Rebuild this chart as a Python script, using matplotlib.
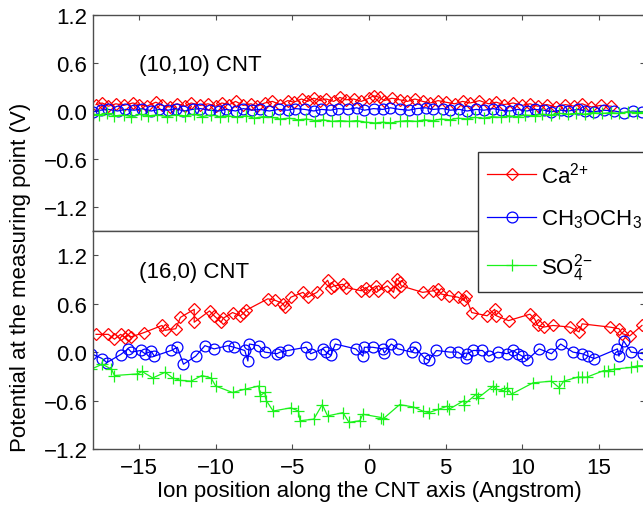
import matplotlib
matplotlib.use("Agg")
import matplotlib.pyplot as plt
from matplotlib.ticker import FuncFormatter

plt.rcParams['font.family'] = ['Liberation Sans', 'DejaVu Sans']
plt.rcParams['mathtext.fontset'] = 'custom'
plt.rcParams['mathtext.rm'] = 'Liberation Sans'
plt.rcParams['mathtext.it'] = 'Liberation Sans:italic'

# (10,10) CNT
ca_top_x = [-17.8, -17.4, -17.0, -16.5, -16.0, -15.4, -15.0, -14.5, -13.9, -13.5, -13.0, -12.5,
            -12.0, -11.6, -11.0, -10.5, -10.0, -9.6, -9.1, -8.7, -8.2, -7.7, -7.3, -6.8, -6.3,
            -5.8, -5.3, -4.9, -4.4, -4.0, -3.6, -3.2, -2.8, -2.3, -1.9, -1.5, -1.0, -0.5, 0.0,
            0.3, 0.7, 1.0, 1.5, 2.0, 2.5, 3.0, 3.5, 4.0, 4.5, 5.0, 5.6, 6.1, 6.6, 7.2, 7.8, 8.3,
            8.8, 9.4, 10.0, 10.5, 11.0, 11.6, 12.2, 12.8, 13.4, 13.9, 14.5, 15.1, 15.8]
ca_top_y = [0.08, 0.10, 0.06, 0.09, 0.07, 0.10, 0.08, 0.06, 0.11, 0.07, 0.05, 0.09,
            0.06, 0.10, 0.07, 0.09, 0.06, 0.10, 0.08, 0.12, 0.07, 0.09, 0.06, 0.10, 0.12,
            0.08, 0.13, 0.11, 0.15, 0.12, 0.16, 0.13, 0.15, 0.12, 0.17, 0.14, 0.15, 0.12, 0.16,
            0.19, 0.17, 0.13, 0.16, 0.14, 0.12, 0.15, 0.12, 0.10, 0.13, 0.11, 0.09, 0.12, 0.10,
            0.13, 0.09, 0.11, 0.08, 0.10, 0.07, 0.09, 0.06, 0.08, 0.05, 0.08, 0.06, 0.09, 0.05,
            0.07, 0.06]

me_top_x = [-18.0, -17.5, -17.0, -16.4, -15.9, -15.3, -14.8, -14.2, -13.7, -13.1, -12.6, -12.1,
            -11.5, -11.0, -10.4, -9.8, -9.3, -8.7, -8.2, -7.6, -7.1, -6.5, -5.9, -5.3, -4.8,
            -4.2, -3.6, -3.1, -2.5, -2.0, -1.4, -0.8, -0.3, 0.3, 0.9, 1.4, 2.0, 2.6, 3.1, 3.7,
            4.2, 4.8, 5.3, 5.9, 6.4, 7.0, 7.5, 8.1, 8.6, 9.2, 9.7, 10.3, 10.8, 11.4, 11.9, 12.5,
            13.0, 13.6, 14.1, 14.7, 15.3, 16.0, 16.6, 17.2, 17.8]
me_top_y = [-0.01, 0.01, 0.02, 0.00, 0.02, 0.01, 0.03, 0.00, 0.02, 0.01, 0.03, 0.00,
            0.02, 0.03, 0.01, 0.00, 0.02, 0.00, 0.03, 0.01, 0.02, 0.00, 0.02, 0.01, 0.03,
            0.02, 0.00, 0.02, 0.01, 0.03, 0.02, 0.04, 0.01, 0.03, 0.02, 0.04, 0.02, 0.01, 0.03,
            0.04, 0.02, 0.03, 0.01, 0.02, 0.00, 0.02, 0.01, 0.03, 0.01, 0.00, 0.02, 0.00, 0.02,
            0.01, -0.01, 0.01, 0.00, 0.02, 0.00, -0.01, 0.01, 0.00, -0.02, 0.00, -0.01]

so_top_x = [-18.0, -17.6, -17.1, -16.6, -16.0, -15.5, -14.9, -14.4, -13.8, -13.2, -12.6, -12.0,
            -11.4, -10.9, -10.3, -9.7, -9.2, -8.6, -8.0, -7.5, -6.9, -6.3, -5.8, -5.2, -4.6,
            -4.1, -3.5, -3.0, -2.4, -1.9, -1.3, -0.8, -0.2, 0.4, 0.9, 1.4, 2.0, 2.5, 3.1, 3.6,
            4.2, 4.7, 5.3, 5.8, 6.4, 6.9, 7.5, 8.0, 8.6, 9.1, 9.7, 10.2, 10.8, 11.3, 11.9, 12.4,
            13.0, 13.5, 14.1, 14.6, 15.2, 15.8, 16.3, 16.9, 17.5, 18.0]
so_top_y = [-0.04, -0.05, -0.03, -0.06, -0.05, -0.07, -0.04, -0.06, -0.05, -0.07, -0.05, -0.06,
            -0.04, -0.07, -0.05, -0.07, -0.06, -0.08, -0.06, -0.09, -0.07, -0.08, -0.10, -0.09,
            -0.11, -0.10, -0.12, -0.11, -0.13, -0.12, -0.13, -0.12, -0.14, -0.15, -0.14, -0.15,
            -0.13, -0.12, -0.13, -0.11, -0.12, -0.10, -0.11, -0.09, -0.10, -0.08, -0.09, -0.07,
            -0.08, -0.06, -0.07, -0.05, -0.06, -0.04, -0.05, -0.03, -0.04, -0.03, -0.04, -0.02,
            -0.03, -0.02, -0.03, -0.01, -0.02, -0.01]

# (16,0) CNT
ca_bot_x = [-17.8, -17.0, -16.6, -16.2, -15.9, -15.7, -15.5, -14.7, -13.5, -13.3, -12.6, -12.3,
            -11.4, -11.4, -10.4, -10.1, -9.65, -9.5, -8.9, -8.4, -8.2, -8.0, -6.6, -6.1, -5.6,
            -5.5, -5.1, -4.3, -4.0, -3.4, -2.7, -2.5, -2.3, -1.7, -1.5, -0.5, -0.2, 0.0, 0.46,
            0.6, 1.2, 1.6, 1.8, 2.0, 2.1, 3.5, 4.2, 4.5, 4.7, 5.2, 5.8, 6.2, 6.3, 6.7, 7.7, 8.2,
            8.3, 9.1, 10.5, 10.8, 11.0, 11.4, 12.0, 13.1, 13.7, 13.9, 15.7, 16.3, 16.5, 17.0, 17.8]
ca_bot_y = [0.22, 0.22, 0.16, 0.22, 0.18, 0.21, 0.19, 0.24, 0.33, 0.27, 0.29, 0.43,
            0.53, 0.37, 0.51, 0.45, 0.37, 0.42, 0.49, 0.45, 0.48, 0.52, 0.66, 0.64, 0.60,
            0.56, 0.68, 0.74, 0.68, 0.74, 0.89, 0.80, 0.82, 0.84, 0.80, 0.76, 0.80, 0.76, 0.82,
            0.76, 0.82, 0.74, 0.91, 0.87, 0.82, 0.74, 0.76, 0.78, 0.72, 0.70, 0.68, 0.64, 0.69,
            0.49, 0.45, 0.53, 0.45, 0.39, 0.47, 0.41, 0.33, 0.31, 0.33, 0.31, 0.25, 0.35, 0.31,
            0.29, 0.23, 0.20, 0.33]

me_bot_x = [-18.1, -17.4, -17.1, -16.2, -15.7, -15.5, -14.9, -14.6, -14.2, -14.0, -12.9, -12.5,
            -12.1, -11.3, -10.7, -10.1, -9.2, -8.8, -8.1, -7.9, -7.8, -7.2, -6.8, -6.0, -5.8,
            -5.3, -4.1, -3.8, -3.0, -2.8, -2.5, -2.2, -0.86, -0.4, -0.3, 0.24, 0.9, 1.0, 1.45,
            1.9, 2.8, 3.0, 3.6, 3.9, 4.4, 5.3, 5.8, 6.3, 6.4, 6.8, 7.4, 7.8, 8.4, 9.0, 9.4, 9.7,
            10.0, 10.3, 11.1, 11.9, 12.5, 13.3, 13.9, 14.3, 14.7, 16.2, 16.3, 16.6, 17.1, 17.9]
me_bot_y = [-0.02, -0.08, -0.13, -0.03, 0.04, 0.00, 0.02, -0.02, 0.01, -0.05, 0.02, 0.06,
            -0.15, -0.05, 0.08, 0.04, 0.08, 0.06, 0.02, -0.11, 0.10, 0.08, 0.00, -0.02, 0.00,
            0.02, 0.06, -0.02, 0.04, 0.00, -0.04, 0.10, 0.04, -0.05, 0.06, 0.06, 0.04, -0.01,
            0.10, 0.04, 0.00, 0.06, -0.07, -0.10, 0.02, 0.00, 0.00, -0.07, -0.02, 0.02, 0.02,
            -0.05, 0.00, -0.02, 0.02, -0.02, -0.05, -0.10, 0.04, -0.02, 0.10, 0.00, -0.02,
            -0.05, -0.08, 0.04, -0.05, 0.14, 0.00, -0.02]

so_bot_x = [-18.1, -17.4, -16.8, -16.6, -15.1, -14.8, -14.1, -13.3, -12.8, -12.3, -11.6, -10.9,
            -10.3, -10.0, -8.9, -8.1, -7.2, -7.1, -6.8, -6.7, -6.25, -5.1, -4.6, -4.5, -3.6,
            -3.05, -2.7, -1.7, -1.3, -0.6, -0.4, 0.8, 0.9, 2.0, 2.9, 3.5, 3.9, 4.5, 5.1, 5.2,
            6.2, 6.2, 7.0, 7.1, 8.1, 8.3, 8.8, 9.0, 9.3, 10.7, 11.9, 12.4, 12.7, 13.6, 13.9,
            14.2, 15.3, 15.6, 16.0, 17.1, 17.5, 18.0]
so_bot_y = [-0.21, -0.15, -0.21, -0.29, -0.27, -0.24, -0.32, -0.25, -0.32, -0.35, -0.36, -0.29,
            -0.32, -0.42, -0.50, -0.46, -0.42, -0.54, -0.50, -0.60, -0.73, -0.69, -0.73, -0.85,
            -0.83, -0.65, -0.79, -0.75, -0.87, -0.85, -0.77, -0.81, -0.83, -0.65, -0.68, -0.73,
            -0.75, -0.71, -0.67, -0.71, -0.60, -0.65, -0.52, -0.57, -0.42, -0.46, -0.48, -0.44,
            -0.52, -0.38, -0.36, -0.44, -0.36, -0.31, -0.31, -0.31, -0.23, -0.23, -0.21, -0.19,
            -0.17, -0.17]

labels = ['Ca$^{2{+}}$', 'CH$_3$OCH$_3$', 'SO$_4^{2{-}}$']
x_ticks = [-15, -10, -5, 0, 5, 10, 15]
y_ticks = [-1.2, -0.6, 0.0, 0.6, 1.2]

W, H = 643, 506
FS = 16
fig = plt.figure(figsize=(W / 100, H / 100), dpi=100)
left, right = 93 / W, 645 / W
ax_top = fig.add_axes([left, 1 - 232 / H, right - left, 216 / H])
ax_bot = fig.add_axes([left, 1 - 450 / H, right - left, 218 / H])

styles = [dict(color=(1, 0, 0), marker='D', ms=6.2),
          dict(color=(0, 0, 1), marker='o', ms=7.8),
          dict(color=(0.1, 0.95, 0.1), marker='+', ms=8.5)]

def fmt_y(v, pos):
    if abs(v) < 1e-9:
        v = 0.0
    return f"{v:.1f}".replace('-', '\u2212')

for ax, data in ((ax_top, [(ca_top_x, ca_top_y), (me_top_x, me_top_y), (so_top_x, so_top_y)]),
                 (ax_bot, [(ca_bot_x, ca_bot_y), (me_bot_x, me_bot_y), (so_bot_x, so_bot_y)])):
    handles = []
    for (xs, ys), st, lab in zip(data, styles, labels):
        h, = ax.plot(xs, ys, '-', color=st['color'], lw=0.9, marker=st['marker'],
                     ms=st['ms'], mfc='none', mec=st['color'], mew=0.9, label=lab)
        handles.append(h)
    ax.set_xlim(-18, 18)
    ax.set_xticks(x_ticks)
    ax.set_yticks(y_ticks)
    ax.yaxis.set_major_formatter(FuncFormatter(fmt_y))
    for sp in ax.spines.values():
        sp.set_color('0.3')
        sp.set_linewidth(1.0)
    ax.tick_params(direction='in', length=3.8, width=0.8, color='0.3', labelsize=FS,
                   right=True, pad=4)

ax_top.set_ylim(-1.5, 1.2)
ax_bot.set_ylim(-1.2, 1.5)
ax_top.tick_params(axis='x', top=True, bottom=False, labelbottom=False)
ax_bot.tick_params(axis='x', top=False, bottom=True, pad=6)

ax_top.text(-15, 0.58, '(10,10) CNT', fontsize=FS, va='center', ha='left')
ax_bot.text(-15, 1.0, '(16,0) CNT', fontsize=FS, va='center', ha='left')

ax_bot.set_xlabel('Ion position along the CNT axis (Angstrom)', fontsize=FS, labelpad=1)
fig.text(21 / W, 1 - 277 / H, 'Potential at the measuring point (V)', fontsize=FS,
         rotation=90, va='center', ha='center')

fig.legend(handles=handles, loc='upper left', bbox_to_anchor=(478 / W, 1 - 153 / H),
           fontsize=FS, frameon=True, fancybox=False, framealpha=1, edgecolor='0.2',
           borderaxespad=0, borderpad=0.42, labelspacing=0.92, handlelength=2.2,
           handletextpad=0.2)

fig.savefig('out.png', dpi=100)
